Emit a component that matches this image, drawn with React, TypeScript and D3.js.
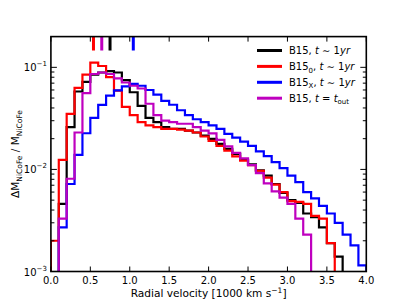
import React from 'react';
import * as d3 from 'd3';

// bin edges of the velocity histograms [1000 km/s]
const binEdges = [0.0, 0.1, 0.2, 0.3, 0.4, 0.5, 0.6, 0.7, 0.8, 0.9, 1.0, 1.1, 1.2, 1.3, 1.4, 1.5, 1.6, 1.7, 1.8, 1.9, 2.0,
    2.1, 2.2, 2.3, 2.4, 2.5, 2.6, 2.7, 2.8, 2.9, 3.0, 3.1, 3.2, 3.3, 3.4, 3.5, 3.6, 3.7, 3.8, 3.9, 4.0];

const b15 = [0, 0.0046, 0.026, 0.058, 0.072, 0.085, 0.089, 0.092, 0.089, 0.075, 0.057, 0.042, 0.032, 0.029, 0.026, 0.025,
    0.025, 0.024, 0.023, 0.0214, 0.0199, 0.0178, 0.0159, 0.0142, 0.0124, 0.0112, 0.0098, 0.0087, 0.0072, 0.0059, 0.005,
    0.0047, 0.0037, 0.0034, 0.0027, 0.0019, 0.0014, 0, 0, 0];

const b15zero = [0.002, 0.0124, 0.035, 0.063, 0.085, 0.111, 0.103, 0.08, 0.059, 0.041, 0.034, 0.029, 0.027, 0.026, 0.025,
    0.025, 0.0245, 0.024, 0.023, 0.021, 0.019, 0.017, 0.0153, 0.0134, 0.0122, 0.011, 0.0097, 0.0083, 0.0071, 0.006, 0.0049,
    0.0048, 0.0046, 0.0035, 0.0033, 0.0019, 0, 0, 0, 0];

const b15x = [0, 0.0027, 0.0072, 0.0139, 0.0226, 0.032, 0.0428, 0.0528, 0.0595, 0.065, 0.069, 0.066, 0.06, 0.054, 0.047,
    0.043, 0.038, 0.034, 0.031, 0.029, 0.027, 0.025, 0.0223, 0.0205, 0.0187, 0.017, 0.015, 0.0135, 0.0118, 0.0103, 0.0087,
    0.0075, 0.006, 0.0052, 0.0044, 0.0037, 0.003, 0.0023, 0.0018, 0.00115];

const b15out = [0, 0.0033, 0.0081, 0.023, 0.056, 0.086, 0.089, 0.086, 0.078, 0.071, 0.066, 0.062, 0.044, 0.034, 0.030,
    0.029, 0.028, 0.028, 0.026, 0.024, 0.0225, 0.0195, 0.0168, 0.0145, 0.0128, 0.011, 0.0092, 0.0073, 0.0061, 0.0053,
    0.0046, 0.0033, 0.0023, 0, 0, 0, 0, 0, 0, 0];

// mean velocities marked along the top spine
const meanVel = [0.54, 0.645, 0.75, 1.045];
const meanColors = ['#ff0000', '#bf00bf', '#000000', '#0000ff'];

const xTicks = [0, 0.5, 1.0, 1.5, 2.0, 2.5, 3.0, 3.5, 4.0];
const yMajor = [-3, -2, -1];

const series = [
    {name: 'b15', values: b15, color: '#000000'},
    {name: 'b15zero', values: b15zero, color: '#ff0000'},
    {name: 'b15x', values: b15x, color: '#0000ff'},
    {name: 'b15out', values: b15out, color: '#bf00bf'},
];

const W = 407, H = 305;
const left = 50.9, right = 366.3, top = 36.6, bottom = 271.5;
const font = 'DejaVu Sans, sans-serif';

const App = () => {
    const x = d3.scaleLinear().domain([0, 4]).range([left, right]);
    const y = d3.scaleLog().domain([1e-3, 0.2]).range([bottom, top]);

    const yOf = v => (v > 0 ? y(v) : bottom + 20);

    const stepLine = d3.line().x(d => d[0]).y(d => d[1]);
    const stepPath = values => {
        const pts = [[x(binEdges[0]), bottom + 20]];
        values.forEach((v, i) => {
            pts.push([x(binEdges[i]), yOf(v)]);
            pts.push([x(binEdges[i + 1]), yOf(v)]);
        });
        pts.push([x(binEdges[binEdges.length - 1]), bottom + 20]);
        return stepLine(pts);
    };

    const yMinor = [];
    yMajor.forEach(p => {
        for (let k = 2; k <= 9; k++) {
            const v = k * Math.pow(10, p);
            if (v < 0.2) yMinor.push(v);
        }
    });

    const legendRows = [
        {color: '#000000', label: 'B15', sub: null, rest: 'sim'},
        {color: '#ff0000', label: 'B15', sub: '0', rest: 'sim'},
        {color: '#0000ff', label: 'B15', sub: 'X', rest: 'sim'},
        {color: '#bf00bf', label: 'B15', sub: null, rest: 'out'},
    ];

    return (
        <div style={{position: 'absolute', left: 0, top: 0}}>
            <svg width={W} height={H} style={{display: 'block', background: '#fff'}}>
                <defs>
                    <clipPath id="plot">
                        <rect x={left} y={top} width={right - left} height={bottom - top}/>
                    </clipPath>
                </defs>

                <g clipPath="url(#plot)">
                    {series.map(s => (
                        <path key={s.name} d={stepPath(s.values)} fill="none" stroke={s.color}
                              strokeWidth={2.2} strokeLinejoin="miter"/>
                    ))}
                    {meanVel.map((v, i) => (
                        <line key={i} x1={x(v)} x2={x(v)} y1={top} y2={top + 14}
                              stroke={meanColors[i]} strokeWidth={3}/>
                    ))}
                </g>

                {/* ticks, pointing inwards */}
                <g stroke="#000" strokeWidth={1}>
                    {xTicks.map(t => (
                        <g key={t}>
                            <line x1={x(t)} x2={x(t)} y1={bottom} y2={bottom - 5}/>
                            <line x1={x(t)} x2={x(t)} y1={top} y2={top + 5}/>
                        </g>
                    ))}
                    {yMajor.map(p => (
                        <g key={p}>
                            <line x1={left} x2={left + 6} y1={y(Math.pow(10, p))} y2={y(Math.pow(10, p))}/>
                            <line x1={right} x2={right - 6} y1={y(Math.pow(10, p))} y2={y(Math.pow(10, p))}/>
                        </g>
                    ))}
                    {yMinor.map(v => (
                        <g key={v}>
                            <line x1={left} x2={left + 3.5} y1={y(v)} y2={y(v)}/>
                            <line x1={right} x2={right - 3.5} y1={y(v)} y2={y(v)}/>
                        </g>
                    ))}
                </g>

                <rect x={left} y={top} width={right - left} height={bottom - top} fill="none"
                      stroke="#000" strokeWidth={1.6}/>

                {/* tick labels */}
                <g fontFamily={font} fontSize={10} fill="#000">
                    {xTicks.map(t => (
                        <text key={t} x={x(t)} y={bottom + 12} textAnchor="middle">{d3.format('.1f')(t)}</text>
                    ))}
                    {yMajor.map(p => (
                        <text key={p} x={left - 4} y={y(Math.pow(10, p)) + 4} textAnchor="end">
                            10<tspan dy={-5} fontSize={7}>{'\u2212' + Math.abs(p)}</tspan>
                        </text>
                    ))}
                </g>

                <text x={(left + right) / 2} y={297} textAnchor="middle" fontFamily={font} fontSize={10.6}>
                    Radial velocity [1000 km s<tspan dy={-4} fontSize={7.5}>{'\u22121'}</tspan><tspan dy={4}>]</tspan>
                </text>

                <text transform={`translate(19,${(top + bottom) / 2}) rotate(-90)`} textAnchor="middle"
                      fontFamily={font} fontSize={10.6}>
                    ΔM<tspan dy={3} fontSize={7.5}>NiCoFe</tspan><tspan dy={-3}> / M</tspan><tspan dy={3}
                                                                                                 fontSize={7.5}>NiCoFe</tspan>
                </text>

                {/* legend */}
                <g fontFamily={font} fontSize={10}>
                    {legendRows.map((r, i) => {
                        const ry = 50.5 + i * 15.9;
                        return (
                            <g key={i}>
                                <line x1={257} x2={282} y1={ry} y2={ry} stroke={r.color} strokeWidth={3}/>
                                <text x={289} y={ry + 3.6}>
                                    {r.label}
                                    {r.sub ? <tspan dy={2.5} fontSize={7}>{r.sub}</tspan> : null}
                                    {r.sub ? <tspan dy={-2.5}>, </tspan> : <tspan>, </tspan>}
                                    {r.rest === 'sim'
                                        ? <><tspan fontStyle="italic">t</tspan><tspan>{' \u223c 1'}</tspan><tspan
                                            fontStyle="italic">yr</tspan></>
                                        : <><tspan fontStyle="italic">t</tspan><tspan>{' = '}</tspan><tspan
                                            fontStyle="italic">t</tspan><tspan dy={2.5} fontSize={7}>out</tspan></>}
                                </text>
                            </g>
                        );
                    })}
                </g>
            </svg>
        </div>
    );
};

export default App;
